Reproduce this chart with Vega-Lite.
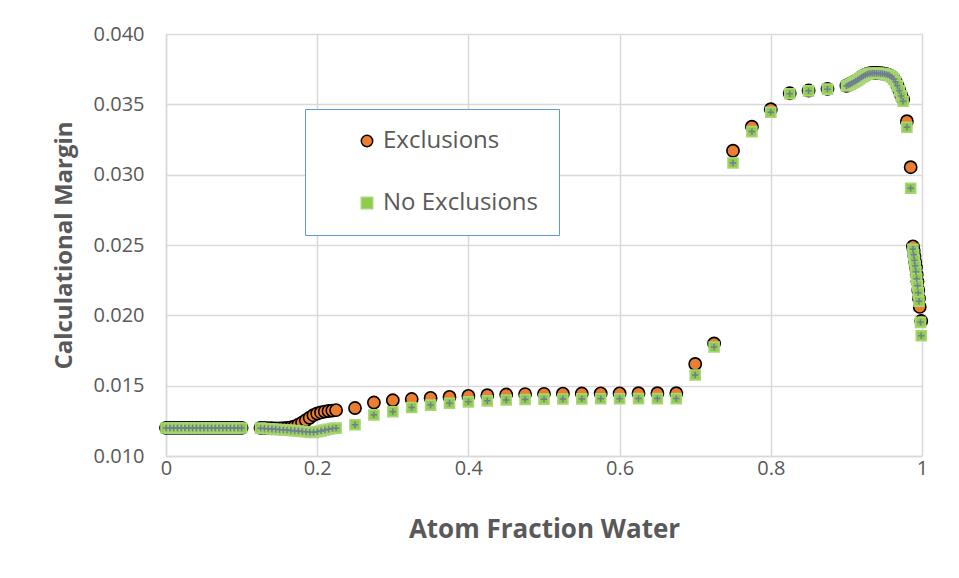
{
  "$schema": "https://vega.github.io/schema/vega-lite/v6.json",
  "width": 756,
  "height": 422,
  "autosize": {"type": "none"},
  "padding": {"left": 166, "top": 34, "right": 37, "bottom": 122},
  "background": "white",
  "config": {
    "view": {"stroke": null},
    "font": "Open Sans"
  },
  "datasets": {
    "pts": [
      {"x":0,"y":0.0120,"s":"Exclusions"},{"x":0.005,"y":0.0120,"s":"Exclusions"},{"x":0.01,"y":0.0120,"s":"Exclusions"},{"x":0.015,"y":0.0120,"s":"Exclusions"},{"x":0.02,"y":0.0120,"s":"Exclusions"},{"x":0.025,"y":0.0120,"s":"Exclusions"},{"x":0.03,"y":0.0120,"s":"Exclusions"},{"x":0.035,"y":0.0120,"s":"Exclusions"},{"x":0.04,"y":0.0120,"s":"Exclusions"},{"x":0.045,"y":0.0120,"s":"Exclusions"},{"x":0.05,"y":0.0120,"s":"Exclusions"},{"x":0.055,"y":0.0120,"s":"Exclusions"},{"x":0.06,"y":0.0120,"s":"Exclusions"},{"x":0.065,"y":0.0120,"s":"Exclusions"},{"x":0.07,"y":0.0120,"s":"Exclusions"},{"x":0.075,"y":0.0120,"s":"Exclusions"},{"x":0.08,"y":0.0120,"s":"Exclusions"},{"x":0.085,"y":0.0120,"s":"Exclusions"},{"x":0.09,"y":0.0120,"s":"Exclusions"},{"x":0.095,"y":0.0120,"s":"Exclusions"},{"x":0.1,"y":0.0120,"s":"Exclusions"},
      {"x":0.125,"y":0.01200,"s":"Exclusions"},{"x":0.13,"y":0.01199,"s":"Exclusions"},{"x":0.135,"y":0.01198,"s":"Exclusions"},{"x":0.14,"y":0.01197,"s":"Exclusions"},{"x":0.145,"y":0.01196,"s":"Exclusions"},{"x":0.15,"y":0.01196,"s":"Exclusions"},{"x":0.155,"y":0.01197,"s":"Exclusions"},{"x":0.16,"y":0.01199,"s":"Exclusions"},{"x":0.165,"y":0.01203,"s":"Exclusions"},{"x":0.17,"y":0.01210,"s":"Exclusions"},{"x":0.175,"y":0.01222,"s":"Exclusions"},{"x":0.18,"y":0.01237,"s":"Exclusions"},{"x":0.185,"y":0.01254,"s":"Exclusions"},{"x":0.19,"y":0.01272,"s":"Exclusions"},{"x":0.195,"y":0.01290,"s":"Exclusions"},{"x":0.2,"y":0.01302,"s":"Exclusions"},{"x":0.205,"y":0.01310,"s":"Exclusions"},{"x":0.21,"y":0.01316,"s":"Exclusions"},{"x":0.215,"y":0.01320,"s":"Exclusions"},{"x":0.22,"y":0.01323,"s":"Exclusions"},{"x":0.225,"y":0.01326,"s":"Exclusions"},
      {"x":0.25,"y":0.01341,"s":"Exclusions"},{"x":0.275,"y":0.01380,"s":"Exclusions"},{"x":0.3,"y":0.01396,"s":"Exclusions"},{"x":0.325,"y":0.01405,"s":"Exclusions"},{"x":0.35,"y":0.01413,"s":"Exclusions"},{"x":0.375,"y":0.01420,"s":"Exclusions"},{"x":0.4,"y":0.01427,"s":"Exclusions"},{"x":0.425,"y":0.01432,"s":"Exclusions"},{"x":0.45,"y":0.01437,"s":"Exclusions"},{"x":0.475,"y":0.01440,"s":"Exclusions"},{"x":0.5,"y":0.01442,"s":"Exclusions"},{"x":0.525,"y":0.01443,"s":"Exclusions"},{"x":0.55,"y":0.01444,"s":"Exclusions"},{"x":0.575,"y":0.01445,"s":"Exclusions"},{"x":0.6,"y":0.01445,"s":"Exclusions"},{"x":0.625,"y":0.01446,"s":"Exclusions"},{"x":0.65,"y":0.01446,"s":"Exclusions"},{"x":0.675,"y":0.01446,"s":"Exclusions"},
      {"x":0.7,"y":0.01654,"s":"Exclusions"},{"x":0.725,"y":0.01800,"s":"Exclusions"},{"x":0.75,"y":0.03170,"s":"Exclusions"},{"x":0.775,"y":0.03341,"s":"Exclusions"},{"x":0.8,"y":0.03465,"s":"Exclusions"},{"x":0.825,"y":0.03579,"s":"Exclusions"},{"x":0.85,"y":0.03598,"s":"Exclusions"},{"x":0.875,"y":0.03610,"s":"Exclusions"},
      {"x":0.9,"y":0.03632,"s":"Exclusions"},{"x":0.9025,"y":0.03638,"s":"Exclusions"},{"x":0.905,"y":0.03645,"s":"Exclusions"},{"x":0.9075,"y":0.03652,"s":"Exclusions"},{"x":0.91,"y":0.03660,"s":"Exclusions"},{"x":0.9125,"y":0.03668,"s":"Exclusions"},{"x":0.915,"y":0.03676,"s":"Exclusions"},{"x":0.9175,"y":0.03685,"s":"Exclusions"},{"x":0.92,"y":0.03695,"s":"Exclusions"},{"x":0.9225,"y":0.03703,"s":"Exclusions"},{"x":0.925,"y":0.03710,"s":"Exclusions"},{"x":0.9275,"y":0.03716,"s":"Exclusions"},{"x":0.93,"y":0.03720,"s":"Exclusions"},{"x":0.9325,"y":0.03722,"s":"Exclusions"},{"x":0.935,"y":0.03723,"s":"Exclusions"},{"x":0.9375,"y":0.03723,"s":"Exclusions"},{"x":0.94,"y":0.03723,"s":"Exclusions"},{"x":0.9425,"y":0.03722,"s":"Exclusions"},{"x":0.945,"y":0.03721,"s":"Exclusions"},{"x":0.9475,"y":0.03720,"s":"Exclusions"},{"x":0.95,"y":0.03718,"s":"Exclusions"},{"x":0.9525,"y":0.03715,"s":"Exclusions"},{"x":0.955,"y":0.03711,"s":"Exclusions"},{"x":0.9575,"y":0.03705,"s":"Exclusions"},{"x":0.96,"y":0.03696,"s":"Exclusions"},{"x":0.9625,"y":0.03682,"s":"Exclusions"},{"x":0.965,"y":0.03663,"s":"Exclusions"},{"x":0.9675,"y":0.03635,"s":"Exclusions"},{"x":0.97,"y":0.03600,"s":"Exclusions"},{"x":0.9725,"y":0.03565,"s":"Exclusions"},{"x":0.975,"y":0.03535,"s":"Exclusions"},{"x":0.98,"y":0.03380,"s":"Exclusions"},{"x":0.985,"y":0.03053,"s":"Exclusions"},
      {"x":0.988,"y":0.0249,"s":"Exclusions"},{"x":0.989,"y":0.0246,"s":"Exclusions"},{"x":0.99,"y":0.0242,"s":"Exclusions"},{"x":0.991,"y":0.0238,"s":"Exclusions"},{"x":0.992,"y":0.0234,"s":"Exclusions"},{"x":0.993,"y":0.0229,"s":"Exclusions"},{"x":0.994,"y":0.0224,"s":"Exclusions"},{"x":0.995,"y":0.0218,"s":"Exclusions"},{"x":0.996,"y":0.0212,"s":"Exclusions"},{"x":0.997,"y":0.0206,"s":"Exclusions"},{"x":0.999,"y":0.0196,"s":"Exclusions"},

      {"x":0,"y":0.01199,"s":"No Exclusions"},{"x":0.005,"y":0.01199,"s":"No Exclusions"},{"x":0.01,"y":0.01199,"s":"No Exclusions"},{"x":0.015,"y":0.01199,"s":"No Exclusions"},{"x":0.02,"y":0.01199,"s":"No Exclusions"},{"x":0.025,"y":0.01199,"s":"No Exclusions"},{"x":0.03,"y":0.01199,"s":"No Exclusions"},{"x":0.035,"y":0.01199,"s":"No Exclusions"},{"x":0.04,"y":0.01199,"s":"No Exclusions"},{"x":0.045,"y":0.01199,"s":"No Exclusions"},{"x":0.05,"y":0.01199,"s":"No Exclusions"},{"x":0.055,"y":0.01199,"s":"No Exclusions"},{"x":0.06,"y":0.01199,"s":"No Exclusions"},{"x":0.065,"y":0.01199,"s":"No Exclusions"},{"x":0.07,"y":0.01199,"s":"No Exclusions"},{"x":0.075,"y":0.01199,"s":"No Exclusions"},{"x":0.08,"y":0.01199,"s":"No Exclusions"},{"x":0.085,"y":0.01199,"s":"No Exclusions"},{"x":0.09,"y":0.01199,"s":"No Exclusions"},{"x":0.095,"y":0.01199,"s":"No Exclusions"},{"x":0.1,"y":0.01199,"s":"No Exclusions"},
      {"x":0.125,"y":0.01198,"s":"No Exclusions"},{"x":0.13,"y":0.01196,"s":"No Exclusions"},{"x":0.135,"y":0.01194,"s":"No Exclusions"},{"x":0.14,"y":0.01192,"s":"No Exclusions"},{"x":0.145,"y":0.01190,"s":"No Exclusions"},{"x":0.15,"y":0.01188,"s":"No Exclusions"},{"x":0.155,"y":0.01186,"s":"No Exclusions"},{"x":0.16,"y":0.01184,"s":"No Exclusions"},{"x":0.165,"y":0.01182,"s":"No Exclusions"},{"x":0.17,"y":0.01180,"s":"No Exclusions"},{"x":0.175,"y":0.01178,"s":"No Exclusions"},{"x":0.18,"y":0.01175,"s":"No Exclusions"},{"x":0.185,"y":0.01172,"s":"No Exclusions"},{"x":0.19,"y":0.01170,"s":"No Exclusions"},{"x":0.195,"y":0.01168,"s":"No Exclusions"},{"x":0.2,"y":0.01172,"s":"No Exclusions"},{"x":0.205,"y":0.01178,"s":"No Exclusions"},{"x":0.21,"y":0.01185,"s":"No Exclusions"},{"x":0.215,"y":0.01190,"s":"No Exclusions"},{"x":0.22,"y":0.01195,"s":"No Exclusions"},{"x":0.225,"y":0.01198,"s":"No Exclusions"},
      {"x":0.25,"y":0.01222,"s":"No Exclusions"},{"x":0.275,"y":0.01292,"s":"No Exclusions"},{"x":0.3,"y":0.01315,"s":"No Exclusions"},{"x":0.325,"y":0.01345,"s":"No Exclusions"},{"x":0.35,"y":0.01362,"s":"No Exclusions"},{"x":0.375,"y":0.01375,"s":"No Exclusions"},{"x":0.4,"y":0.01385,"s":"No Exclusions"},{"x":0.425,"y":0.01392,"s":"No Exclusions"},{"x":0.45,"y":0.01398,"s":"No Exclusions"},{"x":0.475,"y":0.01402,"s":"No Exclusions"},{"x":0.5,"y":0.01404,"s":"No Exclusions"},{"x":0.525,"y":0.01405,"s":"No Exclusions"},{"x":0.55,"y":0.01406,"s":"No Exclusions"},{"x":0.575,"y":0.01407,"s":"No Exclusions"},{"x":0.6,"y":0.01407,"s":"No Exclusions"},{"x":0.625,"y":0.01408,"s":"No Exclusions"},{"x":0.65,"y":0.01408,"s":"No Exclusions"},{"x":0.675,"y":0.01408,"s":"No Exclusions"},
      {"x":0.7,"y":0.01576,"s":"No Exclusions"},{"x":0.725,"y":0.01775,"s":"No Exclusions"},{"x":0.75,"y":0.03083,"s":"No Exclusions"},{"x":0.775,"y":0.03306,"s":"No Exclusions"},{"x":0.8,"y":0.03444,"s":"No Exclusions"},{"x":0.825,"y":0.03575,"s":"No Exclusions"},{"x":0.85,"y":0.03596,"s":"No Exclusions"},{"x":0.875,"y":0.03608,"s":"No Exclusions"},
      {"x":0.9,"y":0.03630,"s":"No Exclusions"},{"x":0.9025,"y":0.03636,"s":"No Exclusions"},{"x":0.905,"y":0.03643,"s":"No Exclusions"},{"x":0.9075,"y":0.03650,"s":"No Exclusions"},{"x":0.91,"y":0.03658,"s":"No Exclusions"},{"x":0.9125,"y":0.03666,"s":"No Exclusions"},{"x":0.915,"y":0.03674,"s":"No Exclusions"},{"x":0.9175,"y":0.03683,"s":"No Exclusions"},{"x":0.92,"y":0.03693,"s":"No Exclusions"},{"x":0.9225,"y":0.03701,"s":"No Exclusions"},{"x":0.925,"y":0.03708,"s":"No Exclusions"},{"x":0.9275,"y":0.03714,"s":"No Exclusions"},{"x":0.93,"y":0.03718,"s":"No Exclusions"},{"x":0.9325,"y":0.03720,"s":"No Exclusions"},{"x":0.935,"y":0.03721,"s":"No Exclusions"},{"x":0.9375,"y":0.03721,"s":"No Exclusions"},{"x":0.94,"y":0.03721,"s":"No Exclusions"},{"x":0.9425,"y":0.03720,"s":"No Exclusions"},{"x":0.945,"y":0.03719,"s":"No Exclusions"},{"x":0.9475,"y":0.03718,"s":"No Exclusions"},{"x":0.95,"y":0.03716,"s":"No Exclusions"},{"x":0.9525,"y":0.03713,"s":"No Exclusions"},{"x":0.955,"y":0.03709,"s":"No Exclusions"},{"x":0.9575,"y":0.03703,"s":"No Exclusions"},{"x":0.96,"y":0.03694,"s":"No Exclusions"},{"x":0.9625,"y":0.03680,"s":"No Exclusions"},{"x":0.965,"y":0.03660,"s":"No Exclusions"},{"x":0.9675,"y":0.03632,"s":"No Exclusions"},{"x":0.97,"y":0.03597,"s":"No Exclusions"},{"x":0.9725,"y":0.03560,"s":"No Exclusions"},{"x":0.975,"y":0.03522,"s":"No Exclusions"},{"x":0.98,"y":0.03337,"s":"No Exclusions"},{"x":0.985,"y":0.02903,"s":"No Exclusions"},
      {"x":0.988,"y":0.0247,"s":"No Exclusions"},{"x":0.989,"y":0.0243,"s":"No Exclusions"},{"x":0.99,"y":0.0239,"s":"No Exclusions"},{"x":0.991,"y":0.0235,"s":"No Exclusions"},{"x":0.992,"y":0.0231,"s":"No Exclusions"},{"x":0.993,"y":0.0226,"s":"No Exclusions"},{"x":0.994,"y":0.0221,"s":"No Exclusions"},{"x":0.995,"y":0.0216,"s":"No Exclusions"},{"x":0.996,"y":0.0210,"s":"No Exclusions"},{"x":0.998,"y":0.0195,"s":"No Exclusions"},{"x":0.999,"y":0.01855,"s":"No Exclusions"}
    ]
  },
  "data": {"name": "pts"},
  "encoding": {
    "x": {
      "field": "x", "type": "quantitative",
      "scale": {"domain": [0, 1], "nice": false, "zero": false},
      "axis": {
        "values": [0, 0.2, 0.4, 0.6, 0.8, 1],
        "format": "~g",
        "title": "Atom Fraction Water",
        "titleFont": "Open Sans", "titleFontSize": 26, "titleFontWeight": "bold", "titleColor": "#595959",
        "titlePadding": 38,
        "labelFont": "Open Sans", "labelFontSize": 20, "labelColor": "#595959", "labelPadding": 2,
        "labelFlush": false,
        "ticks": false,
        "domainColor": "#D9D9D9", "domainWidth": 1.5,
        "gridColor": "#D9D9D9", "gridWidth": 1.5
      }
    },
    "y": {
      "field": "y", "type": "quantitative",
      "scale": {"domain": [0.01, 0.04], "nice": false, "zero": false},
      "axis": {
        "values": [0.010, 0.015, 0.020, 0.025, 0.030, 0.035, 0.040],
        "format": ".3f",
        "title": "Calculational Margin",
        "titleFont": "Open Sans", "titleFontSize": 24, "titleFontWeight": "bold", "titleColor": "#595959",
        "titlePadding": 17,
        "labelFont": "Open Sans", "labelFontSize": 20, "labelColor": "#595959", "labelPadding": 22,
        "labelFlush": false,
        "ticks": false,
        "domainColor": "#D9D9D9", "domainWidth": 1.5,
        "gridColor": "#D9D9D9", "gridWidth": 1.5
      }
    }
  },
  "layer": [
    {
      "mark": {"type": "point", "filled": true, "opacity": 1, "strokeWidth": 1.6},
      "encoding": {
        "fill": {
          "field": "s", "type": "nominal",
          "scale": {"domain": ["Exclusions", "No Exclusions"], "range": ["#ED7D31", "#8FCB4C"]},
          "legend": {
            "title": null,
            "orient": "none", "legendX": 139, "legendY": 75,
            "padding": 20, "symbolOffset": 30,
            "strokeColor": "#5B9BD5", "fillColor": "white",
            "labelFont": "Open Sans", "labelFontSize": 24, "labelColor": "#595959",
            "labelOffset": 4, "rowPadding": 38, "symbolSize": 130, "labelLimit": 400,
            "labelExpr": "datum.label + '\u2003'"
          }
        },
        "stroke": {
          "field": "s", "type": "nominal",
          "scale": {"domain": ["Exclusions", "No Exclusions"], "range": ["#000000", "#A9D577"]}
        },
        "shape": {
          "field": "s", "type": "nominal",
          "scale": {"domain": ["Exclusions", "No Exclusions"], "range": ["circle", "square"]}
        },
        "size": {
          "condition": {"test": "datum.s === 'Exclusions'", "value": 150},
          "value": 100
        }
      }
    },
    {
      "transform": [{"filter": "datum.s === 'No Exclusions'"}],
      "mark": {"type": "point", "shape": "M-1,0L1,0M0,-1L0,1", "filled": false, "stroke": "#6F7E92", "strokeWidth": 1.5, "size": 40, "opacity": 1}
    }
  ]
}
